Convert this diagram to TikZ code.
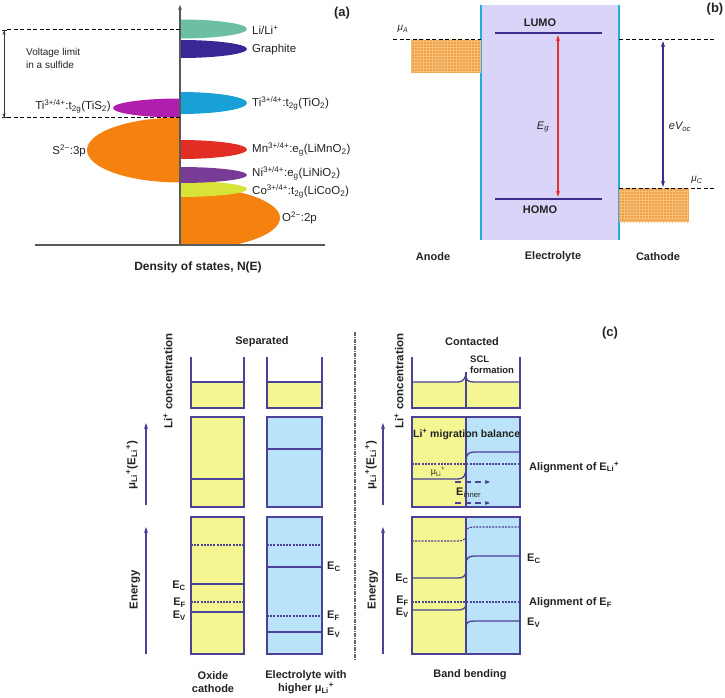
\documentclass[tikz,border=0pt]{standalone}
\usepackage{fontspec}
\setmainfont{Liberation Sans}
\usetikzlibrary{arrows.meta,patterns}
\definecolor{tealc}{RGB}{108,190,165}
\definecolor{graphc}{RGB}{55,40,150}
\definecolor{tiOc}{RGB}{25,160,215}
\definecolor{tiSc}{RGB}{175,30,175}
\definecolor{orangec}{RGB}{245,130,15}
\definecolor{mnc}{RGB}{225,45,35}
\definecolor{nic}{RGB}{120,60,150}
\definecolor{coc}{RGB}{215,228,55}
\definecolor{lav}{RGB}{218,212,248}
\definecolor{cyanl}{RGB}{40,172,216}
\definecolor{navy}{RGB}{60,45,140}
\definecolor{hatchc}{RGB}{240,160,70}
\definecolor{hatchl}{RGB}{247,190,120}
\definecolor{yel}{RGB}{243,246,145}
\definecolor{blu}{RGB}{186,226,248}
\definecolor{cline}{RGB}{75,65,150}
\definecolor{txt}{RGB}{35,35,35}
\definecolor{redar}{RGB}{225,50,45}
\newcommand\sbs[1]{\textsubscript{#1}}
\newcommand\sps[1]{\textsuperscript{#1}}
\begin{document}
\begin{tikzpicture}[x=1pt,y=-1pt,
  font=\fontsize{11}{13}\selectfont, text=txt,
  every node/.style={inner sep=0pt},
  lbl/.style={anchor=west, font=\fontsize{11.5}{13}\selectfont},
  albl/.style={anchor=east, font=\fontsize{11.5}{13}\selectfont},
  bold/.style={font=\fontsize{11}{13}\selectfont\bfseries},
  rbold/.style={font=\fontsize{11.5}{13}\selectfont\bfseries, rotate=90},
  panel/.style={font=\fontsize{13}{15}\selectfont\bfseries},
  axisline/.style={draw=black!65, line width=1.1pt},
  blackdash/.style={draw=black, line width=1pt, dash pattern=on 4pt off 2.5pt},
  hatchbox/.style={fill=hatchc, postaction={pattern=grid, pattern color=hatchl}},
  bline/.style={draw=cline, line width=1.3pt},
  bdash/.style={draw=cline, line width=1.1pt, dash pattern=on 2pt off 1.2pt},
  carrow/.style={draw=cline, line width=1.2pt, -{Stealth[length=6pt,width=4pt]}},
  darrow/.style={draw=cline, line width=1.2pt, dash pattern=on 6pt off 4pt, -{Stealth[length=5pt,width=4pt]}}
]
\useasboundingbox (0,0) rectangle (725,698);

% ================= panel (a) =================
\begin{scope}
\clip (0,0) rectangle (180,260);
\fill[orangec] (180,150) ellipse [x radius=93pt, y radius=32.5pt];
\fill[tiSc] (180,108) ellipse [x radius=67pt, y radius=9.5pt];
\end{scope}
\begin{scope}
\clip (180,0) rectangle (400,245);
\fill[orangec] (180,218) ellipse [x radius=100pt, y radius=32pt];
\fill[coc] (180,189) ellipse [x radius=67pt, y radius=8pt];
\fill[nic] (180,175) ellipse [x radius=67pt, y radius=8pt];
\fill[mnc] (180,149.5) ellipse [x radius=67pt, y radius=9.5pt];
\fill[tiOc] (180,103) ellipse [x radius=67pt, y radius=11pt];
\fill[graphc] (180,49) ellipse [x radius=67pt, y radius=9pt];
\fill[tealc] (180,29) ellipse [x radius=67pt, y radius=9.5pt];
\end{scope}
\draw[axisline, -{Stealth[length=5pt,width=4pt]}] (180,245) -- (180,5);
\draw[axisline] (35,245) -- (325,245);
\draw[blackdash] (7,30) -- (180,30);
\draw[blackdash] (7,118) -- (180,118);
\draw[draw=black!80, line width=0.8pt, {Bar[width=5pt]Stealth[length=4pt,width=3pt]}-{Stealth[length=4pt,width=3pt]Bar[width=5pt]}] (4,30) -- (4,118);
\node[anchor=west, align=left, font=\fontsize{10}{13}\selectfont] (vlim) at (26,58) {Voltage limit\\in a sulfide};
\node[lbl] (lili) at (252,30) {Li/Li\sps{+}};
\node[lbl] (graph) at (252,50) {Graphite};
\node[lbl] (tio) at (252,103) {Ti\sps{3+/4+}:t\sbs{2g}(TiO\sbs{2})};
\node[albl] (tis) at (111,106) {Ti\sps{3+/4+}:t\sbs{2g}(TiS\sbs{2})};
\node[albl] (s3p) at (86,151) {S\sps{2−}:3p};
\node[lbl] (mn) at (252,149) {Mn\sps{3+/4+}:e\sbs{g}(LiMnO\sbs{2})};
\node[lbl] (ni) at (252,173) {Ni\sps{3+/4+}:e\sbs{g}(LiNiO\sbs{2})};
\node[lbl] (co) at (252,191) {Co\sps{3+/4+}:t\sbs{2g}(LiCoO\sbs{2})};
\node[lbl] (o2p) at (282,218) {O\sps{2−}:2p};
\node[font=\fontsize{12}{14}\selectfont\bfseries] (dos) at (198,267) {Density of states, N(E)};
\node[panel] (pa) at (342,13) {(a)};

% ================= panel (b) =================
\fill[lav] (481,5) rectangle (619,240);
\draw[cyanl, line width=1.6pt] (481,5) -- (481,240);
\draw[cyanl, line width=1.6pt] (619,5) -- (619,240);
\fill[hatchbox] (411,40) rectangle (481,73);
\fill[hatchbox] (619,188) rectangle (689,222);
\draw[blackdash] (393,40) -- (481,40);
\draw[blackdash] (619,40) -- (715,40);
\draw[blackdash] (619,188) -- (715,188);
\draw[navy, line width=1.4pt] (495,33) -- (602,33);
\draw[navy, line width=1.4pt] (495,199) -- (602,199);
\draw[redar, line width=1.2pt, {Stealth[length=6pt,width=4pt]}-{Stealth[length=6pt,width=4pt]}] (558,35) -- (558,197);
\draw[navy, line width=1.2pt, {Stealth[length=6pt,width=4pt]}-{Stealth[length=6pt,width=4pt]}] (663,41) -- (663,187);
\node[bold] (lumo) at (540,23) {LUMO};
\node[bold] (homo) at (540,210) {HOMO};
\node[font=\fontsize{11}{13}\selectfont\itshape] (eg) at (543,127) {E\sbs{g}};
\node[font=\fontsize{11}{13}\selectfont\itshape] (evoc) at (680,127) {eV\sbs{oc}};
\node[font=\fontsize{10}{12}\selectfont\itshape] (mua) at (403,29) {μ\sbs{A}};
\node[font=\fontsize{10}{12}\selectfont\itshape] (muc) at (697,180) {μ\sbs{C}};
\node[bold] (anode) at (433,257) {Anode};
\node[bold] (elec) at (553,257) {Electrolyte};
\node[bold] (cath) at (658,257) {Cathode};
\node[panel] (pb) at (715,9) {(b)};

% ================= panel (c) : separated =================
\node[bold] (sep) at (262,342) {Separated};
\node[rbold] (conc1) at (168,381) {Li\sps{+} concentration};
% cups
\fill[yel] (191,382) rectangle (244,408);
\draw[bline] (191,357) -- (191,408) -- (244,408) -- (244,357);
\draw[bline] (191,382) -- (244,382);
\fill[yel] (267,382) rectangle (322,408);
\draw[bline] (267,357) -- (267,408) -- (322,408) -- (322,357);
\draw[bline] (267,382) -- (322,382);
% chemical potential boxes
\filldraw[fill=yel, bline] (191,417) rectangle (244,507);
\draw[bline] (191,479) -- (244,479);
\filldraw[fill=blu, bline] (267,417) rectangle (322,507);
\draw[bline] (267,449) -- (322,449);
% energy boxes
\filldraw[fill=yel, bline] (191,517) rectangle (244,654);
\draw[bdash] (191,545) -- (244,545);
\draw[bline] (191,584) -- (244,584);
\draw[bdash] (191,602) -- (244,602);
\draw[bline] (191,612) -- (244,612);
\filldraw[fill=blu, bline] (267,517) rectangle (322,654);
\draw[bdash] (267,545) -- (322,545);
\draw[bline] (267,567) -- (322,567);
\draw[bdash] (267,616) -- (322,616);
\draw[bline] (267,632) -- (322,632);
% axes
\draw[carrow] (146,505) -- (146,423);
\draw[carrow] (146,654) -- (146,527);
\node[rbold] (mu1) at (132,465) {μ\sbs{Li}\sps{+}(E\sbs{Li}\sps{+})};
\node[rbold] (en1) at (135,590) {Energy};
\node[bold, anchor=east] (ec1) at (186,586) {E\sbs{C}};
\node[bold, anchor=east] (ef1) at (186,603) {E\sbs{F}};
\node[bold, anchor=east] (ev1) at (186,616) {E\sbs{V}};
\node[bold, anchor=west] (ec2) at (327,567) {E\sbs{C}};
\node[bold, anchor=west] (ef2) at (327,616) {E\sbs{F}};
\node[bold, anchor=west] (ev2) at (327,633) {E\sbs{V}};
\node[bold, align=center] (oxc) at (213,682) {Oxide\\cathode};
\node[bold, align=center] (elh) at (306,682) {Electrolyte with\\higher μ\sbs{Li}\sps{+}};

% separator
\draw[draw=black!60, line width=1.3pt, dash pattern=on 4pt off 1pt on 1pt off 1pt] (355,332) -- (355,660);

% ================= panel (c) : contacted =================
\node[bold] (cont) at (472,342) {Contacted};
\node[panel] (pc) at (610,333) {(c)};
\node[rbold] (conc2) at (399,381) {Li\sps{+} concentration};
% cup
\fill[yel] (412,382) -- (458,382) .. controls (463,382) and (466,378) .. (466,372) -- (466,408) -- (412,408) -- cycle;
\fill[yel] (466,376) .. controls (466,380) and (468,382) .. (474,382) -- (520,382) -- (520,408) -- (466,408) -- cycle;
\draw[bline] (412,357) -- (412,408) -- (520,408) -- (520,357);
\draw[bline] (466,372) -- (466,408);
\draw[bline] (412,382) -- (458,382) .. controls (463,382) and (466,378) .. (466,372);
\draw[bline] (466,376) .. controls (466,380) and (468,382) .. (474,382) -- (520,382);
\node[font=\fontsize{9.5}{11}\selectfont\bfseries, align=left, anchor=north west] (scl) at (470,356) {SCL\\formation};
% chemical potential box
\fill[yel] (412,417) rectangle (466,507);
\fill[blu] (466,417) rectangle (520,507);
\draw[bline] (412,417) rectangle (520,507);
\draw[bline] (466,417) -- (466,507);
\draw[bline] (412,479) -- (458,479) .. controls (464,479) and (466,475) .. (466,467);
\draw[bline] (466,461) .. controls (466,455) and (468,452) .. (474,452) -- (520,452);
\draw[bdash] (412,464) -- (520,464);
\node[font=\fontsize{10.5}{12}\selectfont\bfseries, anchor=west] (mig) at (413,434) {Li\sps{+} migration balance};
\node[font=\fontsize{9}{11}\selectfont] (mul) at (438,472) {μ\sbs{Li}\sps{+}};
\draw[darrow] (455,482) -- (490,482);
\draw[darrow] (455,503) -- (490,503);
\node[bold, anchor=west] (einner) at (456,493) {E\textsubscript{\mdseries inner}};
% energy box
\fill[yel] (412,517) rectangle (466,654);
\fill[blu] (466,517) rectangle (520,654);
\draw[bline] (412,517) rectangle (520,654);
\draw[bline] (466,517) -- (466,654);
\draw[bdash] (412,541) -- (458,541) .. controls (463,541) and (466,539) .. (466,535);
\draw[bdash] (466,532) .. controls (466,529) and (468,527) .. (474,527) -- (520,527);
\draw[bline] (412,578) -- (458,578) .. controls (463,578) and (466,576) .. (466,571);
\draw[bline] (466,564) .. controls (466,559) and (468,556) .. (474,556) -- (520,556);
\draw[bdash] (412,602) -- (520,602);
\draw[bline] (412,610) -- (458,610) .. controls (463,610) and (466,608) .. (466,604);
\draw[bline] (466,627) .. controls (466,623) and (468,621) .. (474,621) -- (520,621);
% axes
\draw[carrow] (383,505) -- (383,423);
\draw[carrow] (383,654) -- (383,527);
\node[rbold] (mu2) at (371,465) {μ\sbs{Li}\sps{+}(E\sbs{Li}\sps{+})};
\node[rbold] (en2) at (373,590) {Energy};
\node[bold, anchor=east] (ec3) at (409,579) {E\sbs{C}};
\node[bold, anchor=east] (ef3) at (409,601) {E\sbs{F}};
\node[bold, anchor=east] (ev3) at (409,613) {E\sbs{V}};
\node[bold, anchor=west] (ec4) at (527,559) {E\sbs{C}};
\node[bold, anchor=west] (ef4) at (529,603) {Alignment of E\sbs{F}};
\node[bold, anchor=west] (ev4) at (527,623) {E\sbs{V}};
\node[bold, anchor=west] (eli) at (529,467) {Alignment of E\sbs{Li}\sps{+}};
\node[bold] (bb) at (470,675) {Band bending};
\end{tikzpicture}
\end{document}
